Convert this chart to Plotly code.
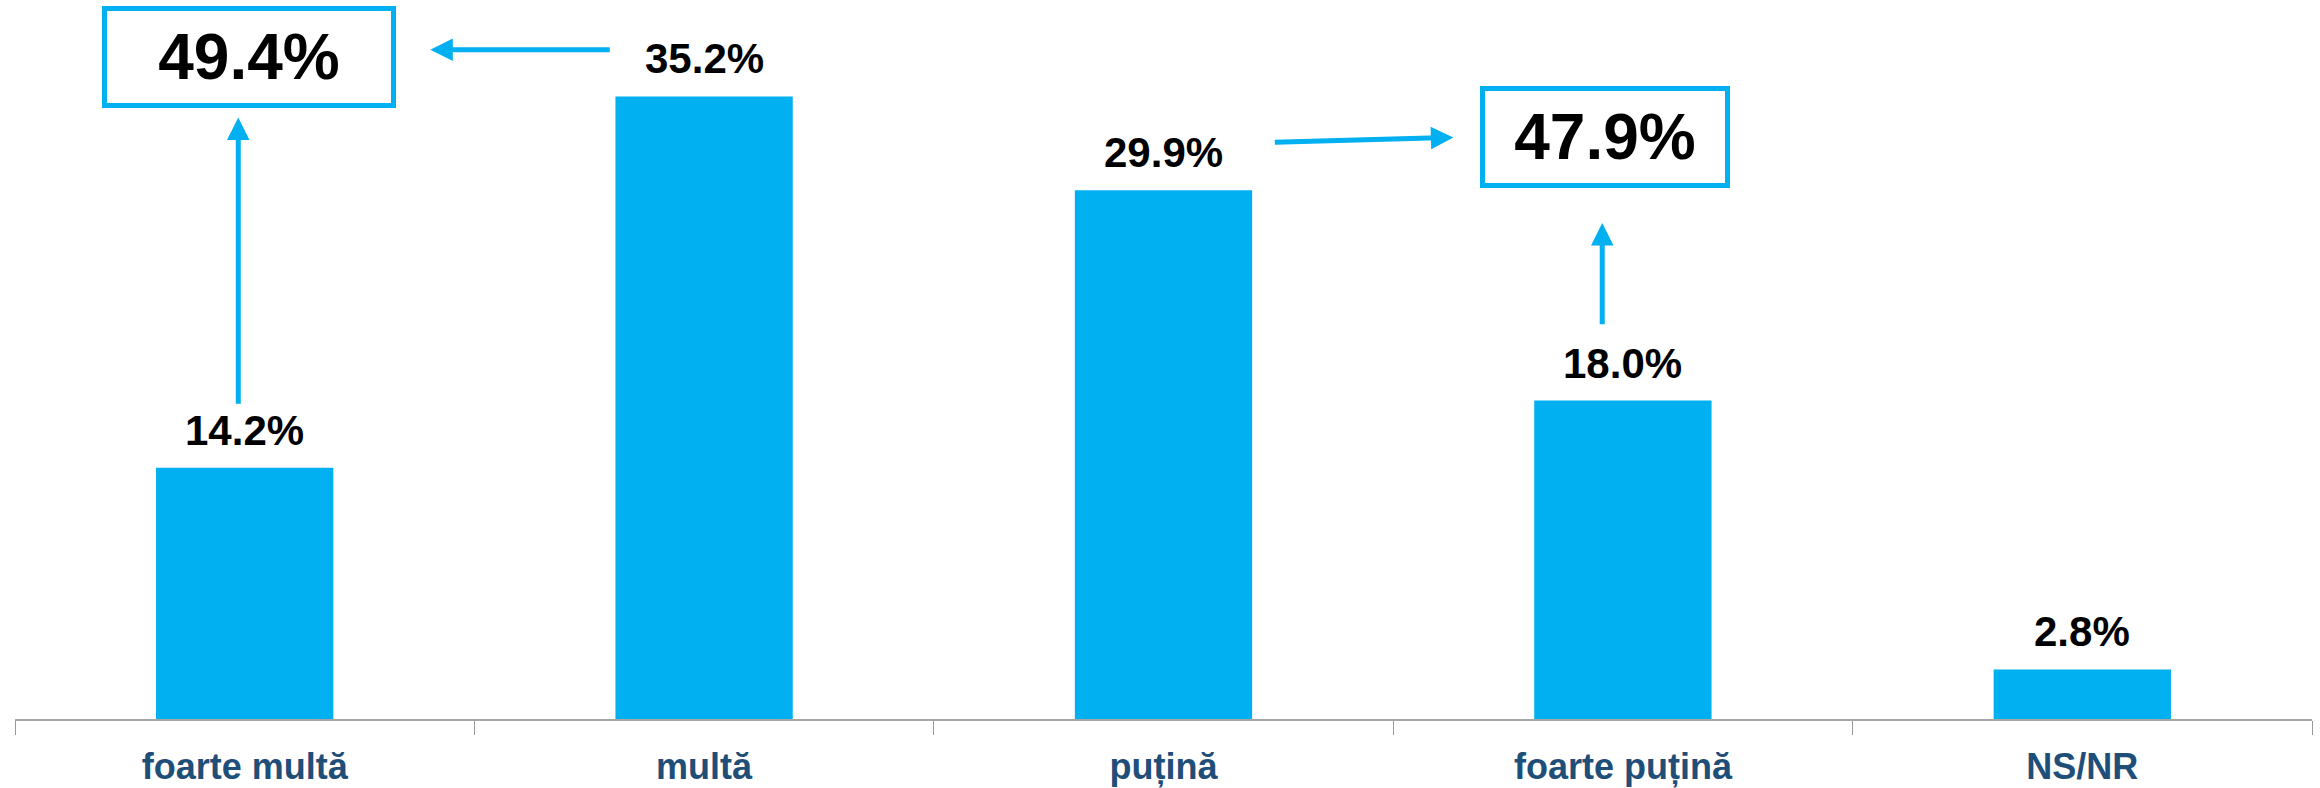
import plotly.graph_objects as go

# ---- data ----
categories = ["foarte multă", "multă", "puțină", "foarte puțină", "NS/NR"]
values = [14.2, 35.2, 29.9, 18.0, 2.8]

# grouped totals shown in the boxes
total_mult = round(values[0] + values[1], 1)      # 49.4
total_putin = round(values[2] + values[3], 1)     # 47.9

BLUE = "#00B0F0"
NAVY = "#1F4E79"
FONT = "Liberation Sans, Arial, sans-serif"

fig = go.Figure()
fig.add_trace(go.Bar(
    x=categories, y=values,
    marker=dict(color=BLUE, line=dict(width=0)),
    width=0.386,
    hoverinfo="skip",
))

annotations = []
# value labels above bars
for c, v in zip(categories, values):
    annotations.append(dict(
        x=c, y=v, xref="x", yref="y", text=f"{v:.1f}%", showarrow=False,
        yanchor="bottom", yshift=12,
        font=dict(family=FONT, size=42, color="black", weight="bold")))

# ---- boxes (positions in category/axis units) ----
box_common = dict(xref="x", yref="y", showarrow=False, bordercolor=BLUE,
                  borderwidth=5, borderpad=0, height=92, bgcolor="white",
                  font=dict(family=FONT, size=64, color="black", weight="bold"))
annotations += [
    dict(x=0.01, y=37.4, text=f"{total_mult:.1f}%", width=284, **box_common),
    dict(x=2.96, y=32.93, text=f"{total_putin:.1f}%", width=240, **box_common),
]
arrows = [  # (tail_x, tail_y, head_x, head_y)
    (-0.014, 17.74, -0.014, 34.0),
    (0.798, 37.84, 0.404, 37.84),
    (2.239, 32.6, 2.631, 32.88),
    (2.955, 22.24, 2.955, 28.04),
]
for tx, ty, hx, hy in arrows:
    annotations.append(dict(
        x=hx, y=hy, ax=tx, ay=ty, xref="x", yref="y", axref="x", ayref="y",
        showarrow=True, arrowhead=2, arrowsize=0.9, arrowwidth=5,
        arrowcolor=BLUE, standoff=0, startstandoff=0, text=""))

fig.update_layout(
    width=2320, height=788,
    margin=dict(l=15, r=8, t=0, b=66),
    paper_bgcolor="white", plot_bgcolor="white",
    showlegend=False,
    annotations=annotations,
    xaxis=dict(
        tickson="boundaries", ticks="outside", ticklen=14, tickwidth=1,
        tickcolor="#999999", showline=True, linecolor="#A6A6A6", linewidth=2,
        showgrid=False, zeroline=False, ticklabelstandoff=15,
        tickfont=dict(family=FONT, size=36, color=NAVY, weight="bold"),
    ),
    yaxis=dict(range=[0, 40.65], visible=False, showgrid=False, zeroline=False),
)

fig.write_html(
    "out.html",
    config={"displayModeBar": False},
    post_script="document.body.style.margin='0';document.body.style.overflow='hidden';",
)
